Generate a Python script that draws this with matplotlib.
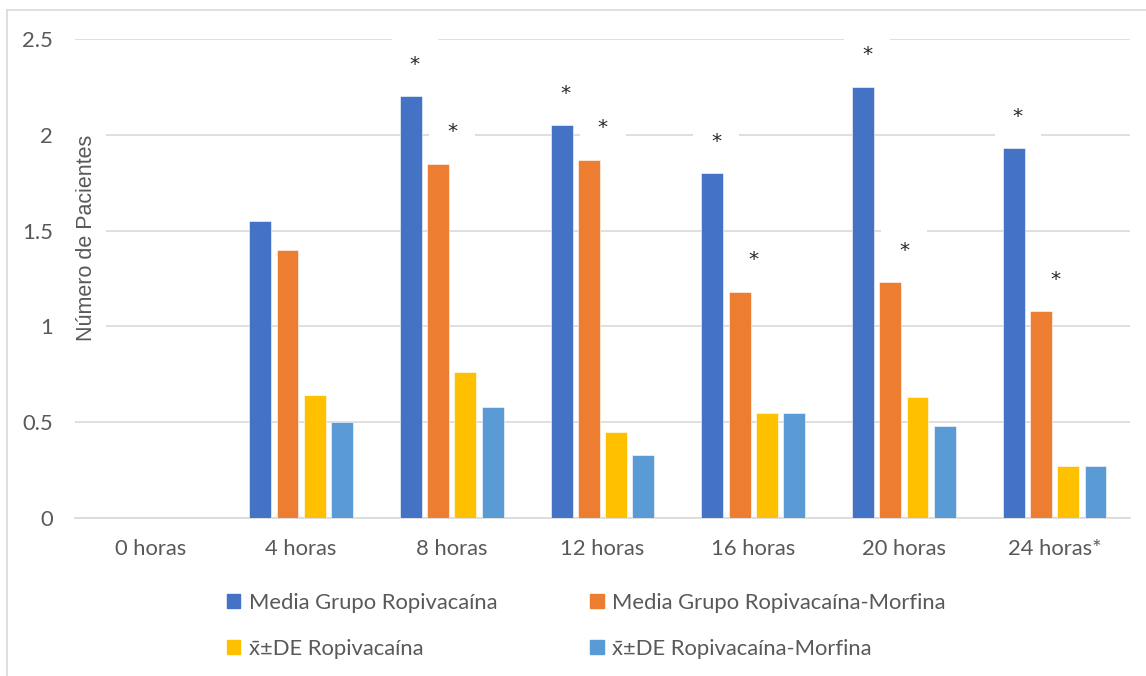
import numpy as np
import matplotlib
matplotlib.use("Agg")
import matplotlib.pyplot as plt
import matplotlib.patches as mpatches
from matplotlib.lines import Line2D

# ── Data ──────────────────────────────────────────────────────────────────────
categories = ["0 horas", "4 horas", "8 horas", "12 horas",
              "16 horas", "20 horas", "24 horas*"]

media_ropi = [0, 1.55, 2.20, 2.05, 1.80, 2.25, 1.93]
media_ropi_morf = [0, 1.40, 1.85, 1.87, 1.18, 1.23, 1.08]
de_ropi = [0, 0.64, 0.76, 0.45, 0.55, 0.63, 0.27]
de_ropi_morf = [0, 0.50, 0.58, 0.33, 0.55, 0.48, 0.27]

series_names = ["Media Grupo Ropivacaína", "Media Grupo Ropivacaína-Morfina",
                "x̄±DE Ropivacaína", "x̄±DE Ropivacaína-Morfina"]

# significance marks (1 = asterisk above the bar)
sig_ropi = [0, 0, 1, 1, 1, 1, 1]
sig_ropi_morf = [0, 0, 1, 1, 1, 1, 1]

colors = ["#4472C4", "#ED7D31", "#FFC000", "#5B9BD5"]
text_col = "#595959"
grid_col = "#D9D9D9"

plt.rcParams["font.family"] = ["Lato", "DejaVu Sans"]

W, H = 1146, 676
fig = plt.figure(figsize=(W / 100, H / 100), dpi=100)
ax = fig.add_axes([75 / W, 1 - 518 / H, (1130 - 75) / W, (518 - 39) / H])

x = np.arange(len(categories))
slot = 0.181
bar_w = 0.145
all_series = [media_ropi, media_ropi_morf, de_ropi, de_ropi_morf]
handles = []
for i, (vals, col, name) in enumerate(zip(all_series, colors, series_names)):
    ax.bar(x + (i - 1.5) * slot, vals, width=bar_w, color=col,
           edgecolor="white", linewidth=0.4, zorder=3)
    handles.append(mpatches.Patch(color=col, label=name))

# asterisks over the mean bars
for vals, sig, i, dx in [(media_ropi, sig_ropi, 0, 4), (media_ropi_morf, sig_ropi_morf, 1, 14)]:
    for xi, v, s in zip(x, vals, sig):
        if s:
            ax.annotate("*", (xi + (i - 1.5) * slot, v), textcoords="offset points",
                        xytext=(dx * 0.72, 23), ha="center", va="center",
                        fontsize=14.5, color="#262626", family="DejaVu Sans",
                        bbox=dict(boxstyle="square,pad=0.9", fc="white", ec="none"),
                        zorder=4)

ax.set_xlim(-0.5, len(categories) - 0.5)
ax.set_ylim(0, 2.5)
ax.set_yticks([0, 0.5, 1, 1.5, 2, 2.5])
ax.set_yticklabels(["0", "0.5", "1", "1.5", "2", "2.5"])
ax.set_xticks(x)
ax.set_xticklabels(categories)
ax.tick_params(axis="both", length=0, colors=text_col, labelsize=15.8)
ax.tick_params(axis="y", pad=16)
ax.tick_params(axis="x", pad=15)
ax.grid(axis="y", color=grid_col, linewidth=1.2, zorder=0)
ax.set_axisbelow(True)
for s in ["top", "right", "left"]:
    ax.spines[s].set_visible(False)
ax.spines["bottom"].set_color(grid_col)
ax.spines["bottom"].set_linewidth(1.2)

# axis title sits inside the plot area, masking the gridlines behind it
fig.text(87 / W, 1 - 238 / H, "Número de Pacientes", rotation=90,
         ha="center", va="center", fontsize=15.5, color=text_col,
         family=["Liberation Sans", "DejaVu Sans"],
         bbox=dict(boxstyle="square,pad=0.4", fc="white", ec="none"), zorder=5)

# legend filled row by row: means on the first row, x̄±DE on the second
order = [0, 2, 1, 3]
fig.legend(handles=[handles[k] for k in order], ncol=2, loc="center left",
           bbox_to_anchor=(207 / W, 1 - 626 / H), frameon=False,
           fontsize=15.8, labelcolor=text_col, handlelength=0.6,
           handleheight=0.6, handletextpad=0.4, columnspacing=4.25,
           labelspacing=1.2)

# light chart border (top and left edges)
fig.add_artist(Line2D([7 / W, 7 / W], [0, 1 - 10 / H], transform=fig.transFigure,
                      color=grid_col, linewidth=1.2))
fig.add_artist(Line2D([7 / W, 1], [1 - 10 / H, 1 - 10 / H], transform=fig.transFigure,
                      color=grid_col, linewidth=1.2))

fig.savefig("out.png", dpi=100, facecolor="white")
